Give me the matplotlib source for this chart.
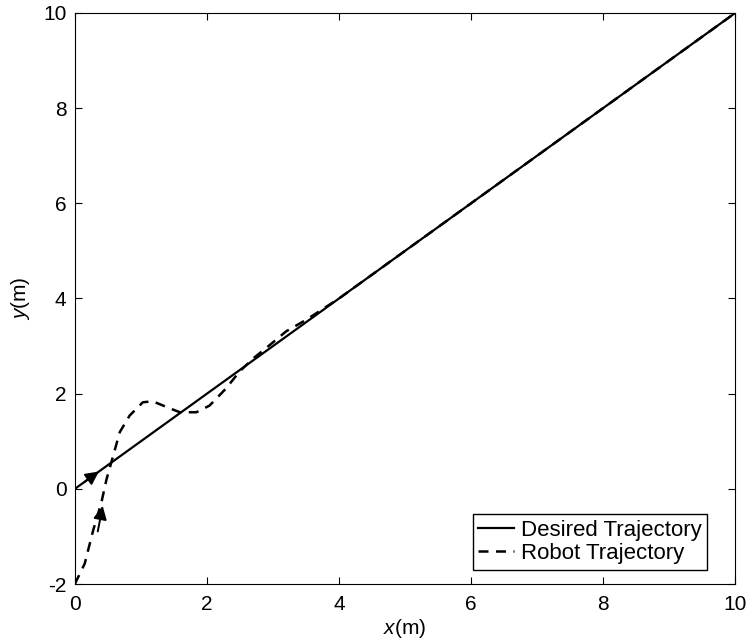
import matplotlib
matplotlib.use("Agg")
import matplotlib.pyplot as plt

plt.rcParams['font.family'] = ['Liberation Sans', 'DejaVu Sans']
plt.rcParams['axes.unicode_minus'] = False
plt.rcParams['mathtext.fontset'] = 'custom'
plt.rcParams['mathtext.it'] = 'Liberation Sans:italic'

# desired path y = x
desired_x = [0, 10]
desired_y = [0, 10]

# robot path
robot_x = [0.0, 0.15, 0.28, 0.40, 0.48, 0.58, 0.68, 0.83, 1.03, 1.18, 1.39, 1.59,
           1.84, 2.04, 2.29, 2.49, 2.70, 2.95, 3.20, 3.50, 4.0, 5.0, 7.0, 10.0]
robot_y = [-2.0, -1.57, -0.86, -0.30, 0.20, 0.69, 1.19, 1.54, 1.82, 1.84, 1.72, 1.61,
           1.61, 1.75, 2.11, 2.46, 2.74, 3.02, 3.31, 3.55, 4.0, 5.0, 7.0, 10.0]

fig = plt.figure(figsize=(7.48, 6.44), dpi=100)
ax = fig.add_axes([0.10, 0.093, 0.883, 0.887])

ax.plot(desired_x, desired_y, 'k-', lw=1.6, label='Desired Trajectory')
ax.plot(robot_x, robot_y, 'k--', lw=1.8, dashes=(4, 3), label='Robot Trajectory')

# direction arrows
ax.annotate('', xy=(0.40, 0.40), xytext=(0.12, 0.12),
            arrowprops=dict(arrowstyle='-|>', color='k', lw=1.4, mutation_scale=20))
ax.annotate('', xy=(0.43, -0.30), xytext=(0.34, -0.95),
            arrowprops=dict(arrowstyle='-|>', color='k', lw=1.4, mutation_scale=20))

ax.set_xlim(0, 10)
ax.set_ylim(-2, 10)
ax.set_xticks([0, 2, 4, 6, 8, 10])
ax.set_yticks([-2, 0, 2, 4, 6, 8, 10])
ax.tick_params(direction='in', top=True, right=True, labelsize=15, length=5)
ax.tick_params(axis='x', pad=8)
ax.tick_params(axis='y', pad=6)
ax.set_xlabel(r'$x$(m)', fontsize=15, labelpad=2)
ax.set_ylabel(r'$y$(m)', fontsize=15, labelpad=8)

ax.legend(loc='lower right', fontsize=16, frameon=True, fancybox=False,
          edgecolor='k', framealpha=1, handlelength=1.6, handletextpad=0.3,
          borderpad=0.25, labelspacing=0.1, borderaxespad=0,
          bbox_to_anchor=(0.957, 0.025))

fig.savefig('out.png', dpi=100)
